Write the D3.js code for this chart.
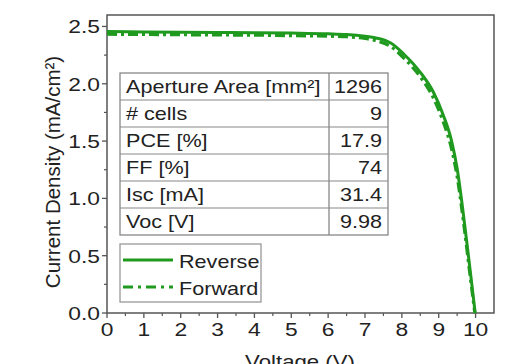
<!DOCTYPE html>
<html><head><meta charset="utf-8">
<script src="https://cdn.jsdelivr.net/npm/d3@7"></script>
<style>body{margin:0;background:#fff}svg{display:block}text{font-family:"Liberation Sans",Arial,sans-serif;fill:#222}</style>
</head><body><svg id="c" width="507" height="364"></svg>
<script>
const voltage = [0,1,2,3,4,5,6,6.5,7,7.3,7.7,8.05,8.5,8.85,9.12,9.35,9.5,9.67,9.85,9.99];
const reverseJ = [2.455,2.452,2.45,2.448,2.446,2.442,2.436,2.43,2.415,2.40,2.355,2.26,2.10,1.93,1.73,1.50,1.26,0.86,0.38,0.0];
const voltageF = [0,1,2,3,4,5,6,6.5,7,7.3,7.7,8.05,8.5,8.85,9.12,9.35,9.5,9.67,9.85,9.98];
const forwardJ = [2.432,2.43,2.428,2.426,2.424,2.42,2.415,2.41,2.395,2.375,2.325,2.225,2.06,1.88,1.67,1.43,1.19,0.80,0.33,0.0];
const xTicks = [0,1,2,3,4,5,6,7,8,9,10];
const yTicks = [0,0.5,1.0,1.5,2.0,2.5];
const tableLabels = ["Aperture Area [mm²]","# cells","PCE [%]","FF [%]","Isc [mA]","Voc [V]"];
const tableValues = ["1296","9","17.9","74","31.4","9.98"];
const seriesNames = ["Reverse","Forward"];

const svg = d3.select("#c");
const green = "#1f9a1f";
const SX = 1.2;
const L=107, R=494, T=15, B=313;
const x = d3.scaleLinear().domain([0,10.5]).range([L,R]);
const y = d3.scaleLinear().domain([0,2.6]).range([B,T]);

function htext(g, str, px, py, anchor, size){
  return g.append("text").attr("transform",`translate(${px},${py}) scale(${SX},1)`)
    .attr("text-anchor",anchor).attr("font-size",size).text(str);
}

// frame
svg.append("rect").attr("x",L).attr("y",T).attr("width",R-L).attr("height",B-T)
  .attr("fill","none").attr("stroke","#555").attr("stroke-width",1.5);

// x ticks
const minorX = d3.range(0.5,10.5,1);
svg.selectAll(".xt").data(xTicks).join("line").attr("x1",d=>x(d)).attr("x2",d=>x(d))
  .attr("y1",B).attr("y2",B+5).attr("stroke","#555").attr("stroke-width",1.3);
svg.selectAll(".xm").data(minorX).join("line").attr("x1",d=>x(d)).attr("x2",d=>x(d))
  .attr("y1",B).attr("y2",B+3).attr("stroke","#555").attr("stroke-width",1.2);
xTicks.forEach(d=>htext(svg, String(d), x(d), B+23, "middle", 19));

// y ticks
const minorY = d3.range(0.25,2.6,0.5);
svg.selectAll(".yt").data(yTicks).join("line").attr("x1",L-5).attr("x2",L)
  .attr("y1",d=>y(d)).attr("y2",d=>y(d)).attr("stroke","#555").attr("stroke-width",1.3);
svg.selectAll(".ym").data(minorY).join("line").attr("x1",L-3).attr("x2",L)
  .attr("y1",d=>y(d)).attr("y2",d=>y(d)).attr("stroke","#555").attr("stroke-width",1.2);
yTicks.forEach(d=>htext(svg, d.toFixed(1), L-7, y(d)+7, "end", 19));

// axis titles
svg.append("text").attr("transform",`translate(60,${(T+B)/2+8}) rotate(-90)`)
  .attr("text-anchor","middle").attr("font-size",20.5).text("Current Density (mA/cm²)");
htext(svg, "Voltage (V)", 300, 368, "middle", 18.5);

// curves
const line = d3.line().x(d=>x(d[0])).y(d=>y(d[1])).curve(d3.curveMonotoneX);
svg.append("path").datum(voltageF.map((v,i)=>[v,forwardJ[i]])).attr("d",line)
  .attr("fill","none").attr("stroke",green).attr("stroke-width",3.2).attr("stroke-dasharray","10,4,3,4");
svg.append("path").datum(voltage.map((v,i)=>[v,reverseJ[i]])).attr("d",line)
  .attr("fill","none").attr("stroke",green).attr("stroke-width",3);

// table
const tx0=120, tx1=329, tx2=388, ty0=73, rh=27;
const tg = svg.append("g");
tg.append("rect").attr("x",tx0).attr("y",ty0).attr("width",tx2-tx0).attr("height",rh*tableLabels.length)
  .attr("fill","#fff").attr("stroke","#888").attr("stroke-width",1.3);
tg.append("line").attr("x1",tx1).attr("x2",tx1).attr("y1",ty0).attr("y2",ty0+rh*tableLabels.length).attr("stroke","#888").attr("stroke-width",1.3);
tableLabels.forEach((lab,i)=>{
  if(i>0) tg.append("line").attr("x1",tx0).attr("x2",tx2).attr("y1",ty0+rh*i).attr("y2",ty0+rh*i).attr("stroke","#888").attr("stroke-width",1.2);
  htext(tg, lab, tx0+6, ty0+rh*i+20, "start", 18);
  htext(tg, tableValues[i], tx2-6, ty0+rh*i+20, "end", 18);
});

// legend
const lg = svg.append("g");
lg.append("rect").attr("x",120).attr("y",244).attr("width",141).attr("height",58)
  .attr("fill","#fff").attr("stroke","#999").attr("stroke-width",1.3);
lg.append("line").attr("x1",123).attr("x2",173).attr("y1",260).attr("y2",260).attr("stroke",green).attr("stroke-width",3.2);
lg.append("line").attr("x1",123).attr("x2",173).attr("y1",287).attr("y2",287).attr("stroke",green).attr("stroke-width",3.2).attr("stroke-dasharray","10,5,3,5");
htext(lg, seriesNames[0], 179, 268, "start", 18);
htext(lg, seriesNames[1], 179, 295, "start", 18);
</script></body></html>
